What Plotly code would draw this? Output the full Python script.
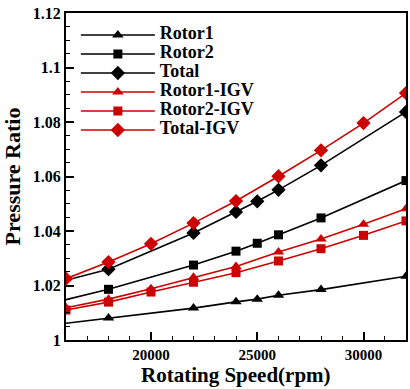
import plotly.graph_objects as go

# ---- data ----
rpm_base = [15000, 18000, 22000, 24000, 25000, 26000, 28000, 32000]
rotor1 = [1.0052, 1.0081, 1.0117, 1.0140, 1.0150, 1.0164, 1.0185, 1.0234]
rotor2 = [1.0129, 1.0186, 1.0275, 1.0326, 1.0355, 1.0386, 1.0448, 1.0585]
total = [1.0199, 1.0260, 1.0393, 1.0470, 1.0509, 1.0551, 1.0641, 1.0837]

rpm_igv = [16000, 18000, 20000, 22000, 24000, 26000, 28000, 30000, 32000]
rotor1_igv = [1.0118, 1.0150, 1.0188, 1.0230, 1.0270, 1.0323, 1.0371, 1.0425, 1.0482]
rotor2_igv = [1.0110, 1.0139, 1.0176, 1.0212, 1.0247, 1.0290, 1.0335, 1.0384, 1.0437]
total_igv = [1.0225, 1.0286, 1.0353, 1.0429, 1.0510, 1.0601, 1.0696, 1.0796, 1.0906]

y_tickvals = [1.0, 1.02, 1.04, 1.06, 1.08, 1.1, 1.12]
y_ticktext = ["1", "1.02", "1.04", "1.06", "1.08", "1.1", "1.12"]
x_tickvals = [20000, 25000, 30000]
x_ticktext = ["20000", "25000", "30000"]

BLACK = "#000000"
RED = "#CC0000"
FONT = "Liberation Serif"

W, H = 410, 389
M_L, M_R, M_T, M_B = 62, 2, 13, 49

series = [
    ("Rotor1", rpm_base, rotor1, BLACK, "triangle-up", 10),
    ("Rotor2", rpm_base, rotor2, BLACK, "square", 9),
    ("Total", rpm_base, total, BLACK, "diamond", 11),
    ("Rotor1-IGV", rpm_igv, rotor1_igv, RED, "triangle-up", 10),
    ("Rotor2-IGV", rpm_igv, rotor2_igv, RED, "square", 9),
    ("Total-IGV", rpm_igv, total_igv, RED, "diamond", 11),
]

fig = go.Figure()
for name, xs, ys, color, sym, size in series:
    fig.add_trace(go.Scatter(
        x=xs, y=ys, mode="lines+markers",
        name="<b><span style='font-size:18px'>" + name + "</span></b>",
        line=dict(color=color, width=1.6),
        marker=dict(symbol=sym, size=size, color=color, line=dict(width=0)),
        cliponaxis=True,
    ))

axis_common = dict(
    showline=True, linecolor="black", linewidth=2, mirror=True,
    ticks="inside", tickcolor="black", tickwidth=1.5, ticklen=8,
    showgrid=False, zeroline=False,
)

fig.update_xaxes(
    range=[16000, 32000], tickvals=x_tickvals, ticktext=x_ticktext,
    minor=dict(dtick=1000, ticks="inside", ticklen=4, tickcolor="black", tickwidth=1),
    tickfont=dict(family=FONT, size=15, color="black", weight="bold"),
    **axis_common,
)
fig.update_yaxes(
    range=[1.0, 1.12], tickvals=y_tickvals, ticktext=y_ticktext,
    minor=dict(dtick=0.005, tick0=1.0, ticks="inside", ticklen=4, tickcolor="black", tickwidth=1),
    tickfont=dict(family=FONT, size=16, color="black", weight="bold"),
    title=dict(text="Pressure Ratio",
               font=dict(family=FONT, size=22, color="black", weight="bold")),
    **axis_common,
)

plot_h = H - M_T - M_B
fig.add_annotation(
    text="Rotating Speed(rpm)", xref="paper", yref="paper",
    x=0.5, y=-M_B / plot_h, xanchor="center", yanchor="bottom", yshift=1,
    showarrow=False, borderpad=0,
    font=dict(family=FONT, size=21, color="black", weight="bold"),
)

fig.update_layout(
    width=W, height=H,
    margin=dict(l=M_L, r=M_R, t=M_T, b=M_B),
    paper_bgcolor="white", plot_bgcolor="white",
    showlegend=True,
    legend=dict(
        x=0.029, y=0.977, xanchor="left", yanchor="top",
        bgcolor="rgba(0,0,0,0)", borderwidth=0,
        font=dict(family=FONT, size=11, color="black", weight="bold"),
        itemwidth=74,
    ),
)

fig.write_html("out.html")
